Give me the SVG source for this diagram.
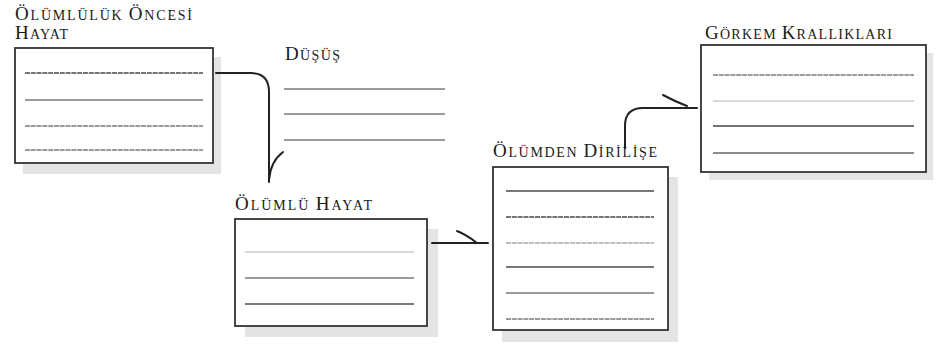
<svg xmlns="http://www.w3.org/2000/svg" width="936" height="344" viewBox="0 0 936 344">
<style>
text{font-family:"Liberation Serif","Times New Roman",serif;fill:#1a1a1a}
.c{font-size:19px}
.s{font-size:14px}
.shadow{fill:#e4e4e4}
.box{fill:#fff;stroke:#333;stroke-width:1.8}
.ln{stroke-width:1.7;fill:none}
.dk{stroke:#4a4a4a}
.md{stroke:#7a7a7a}
.lt{stroke:#cccccc}
.ds{stroke-dasharray:5 0.8}
.con{fill:none;stroke:#222;stroke-width:2;stroke-linecap:round}
</style>
<rect width="936" height="344" fill="#fff"/>

<g id="node-olumluluk-oncesi-hayat">
<text x="15" y="20" textLength="177" lengthAdjust="spacing"><tspan class="c">Ö</tspan><tspan class="s">LÜMLÜLÜK </tspan><tspan class="c">Ö</tspan><tspan class="s">NCESİ</tspan></text>
<text x="15" y="39" textLength="53" lengthAdjust="spacing"><tspan class="c">H</tspan><tspan class="s">AYAT</tspan></text>
<rect class="shadow" x="23" y="57" width="198" height="117"/>
<rect class="box" x="15" y="48" width="198" height="115"/>
<line class="ln dk ds" x1="25" y1="73" x2="203" y2="73"/>
<line class="ln md" x1="25" y1="100" x2="203" y2="100"/>
<line class="ln md ds" x1="25" y1="126" x2="203" y2="126"/>
<line class="ln md ds" x1="25" y1="150" x2="203" y2="150"/>
</g>

<g id="node-dusus">
<text x="285" y="60" textLength="55" lengthAdjust="spacing"><tspan class="c">D</tspan><tspan class="s">ÜŞÜŞ</tspan></text>
<line class="ln md" x1="284" y1="89" x2="445" y2="89"/>
<line class="ln md" x1="284" y1="114" x2="445" y2="114"/>
<line class="ln md" x1="284" y1="140" x2="445" y2="140"/>
</g>

<g id="node-olumlu-hayat">
<text x="235" y="210" textLength="137" lengthAdjust="spacing"><tspan class="c">Ö</tspan><tspan class="s">LÜMLÜ </tspan><tspan class="c">H</tspan><tspan class="s">AYAT</tspan></text>
<rect class="shadow" x="245" y="229" width="193" height="108"/>
<rect class="box" x="235" y="219" width="192" height="107"/>
<line class="ln lt" x1="245" y1="252" x2="414" y2="252"/>
<line class="ln md" x1="245" y1="278" x2="414" y2="278"/>
<line class="ln md" x1="245" y1="304" x2="414" y2="304" style="stroke-width:2.2"/>
</g>

<g id="node-olumden-dirilise">
<text x="493" y="157" textLength="164" lengthAdjust="spacing"><tspan class="c">Ö</tspan><tspan class="s">LÜMDEN </tspan><tspan class="c">D</tspan><tspan class="s">İRİLİŞE</tspan></text>
<rect class="shadow" x="502" y="177" width="176" height="165"/>
<rect class="box" x="493" y="167" width="175" height="163"/>
<line class="ln dk" x1="506" y1="191" x2="654" y2="191"/>
<line class="ln dk ds" x1="506" y1="217" x2="654" y2="217"/>
<line class="ln ds" x1="506" y1="243" x2="654" y2="243" style="stroke:#aaa"/>
<line class="ln dk" x1="506" y1="267" x2="654" y2="267"/>
<line class="ln md" x1="506" y1="293" x2="654" y2="293"/>
<line class="ln md ds" x1="506" y1="319" x2="654" y2="319"/>
</g>

<g id="node-gorkem-kralliklari">
<text x="705" y="39" textLength="187" lengthAdjust="spacing"><tspan class="c">G</tspan><tspan class="s">ÖRKEM </tspan><tspan class="c">K</tspan><tspan class="s">RALLIKLARI</tspan></text>
<rect class="shadow" x="709" y="53" width="224" height="127"/>
<rect class="box" x="701" y="45" width="225" height="127"/>
<line class="ln md ds" x1="713" y1="75" x2="914" y2="75"/>
<line class="ln lt" x1="713" y1="101" x2="914" y2="101"/>
<line class="ln" x1="713" y1="126" x2="914" y2="126" style="stroke:#444"/>
<line class="ln" x1="713" y1="153" x2="914" y2="153" style="stroke:#666"/>
</g>

<g id="connectors">
<path class="con" d="M216,73 H251 Q269,73 269,92 V182"/>
<path class="con" d="M269,180 C270,168 275,158 283,152"/>
<path class="con" d="M432,243 H488"/>
<path class="con" d="M457,231 Q467,235 477,243"/>
<path class="con" d="M625,148 V126 Q625,108 643,108 H697"/>
<path class="con" d="M663,95 Q674,101 687,106"/>
</g>
</svg>
